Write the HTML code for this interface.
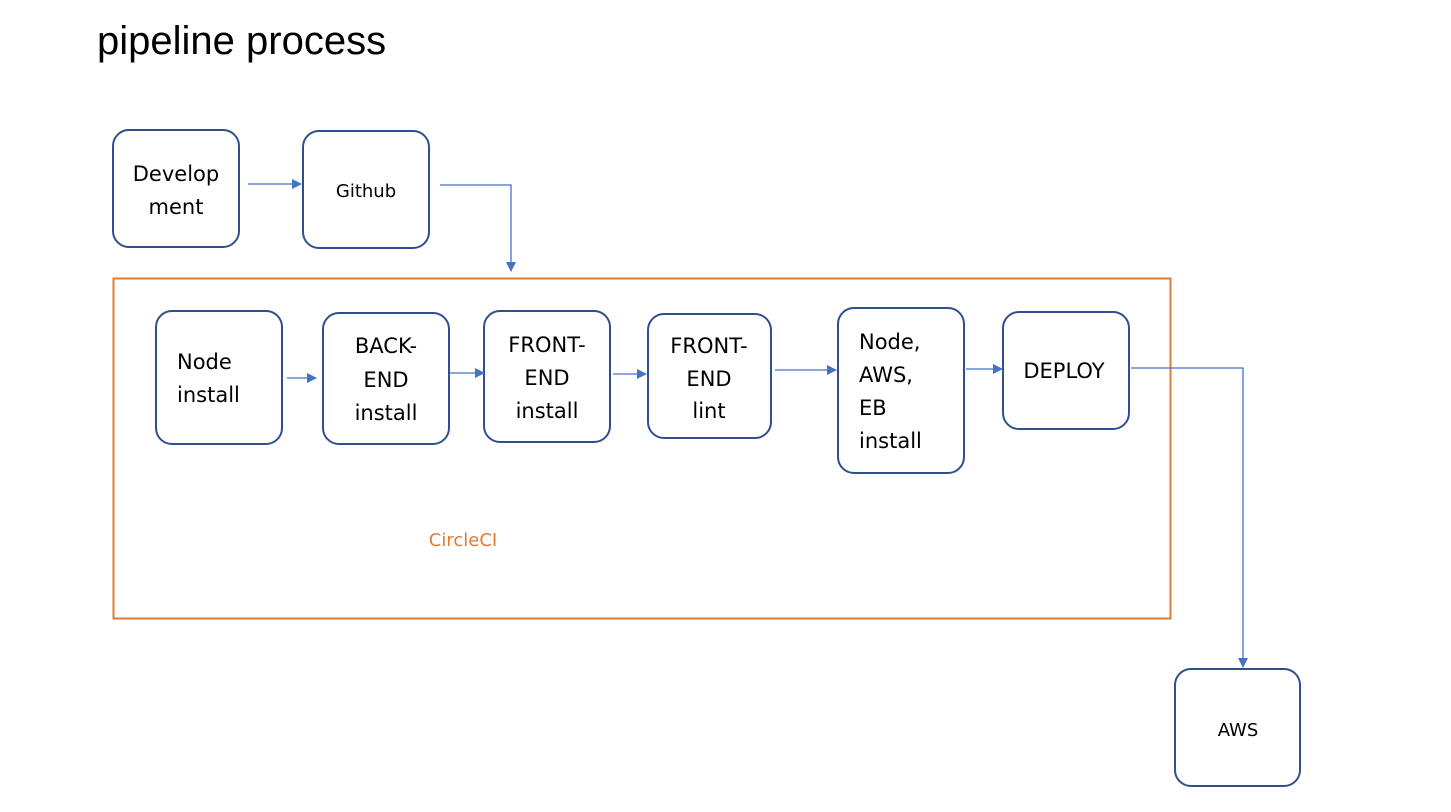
<!DOCTYPE html>
<html><head><meta charset="utf-8"><style>
body{margin:0;background:#fff;}
svg{display:block;}
text{font-family:"DejaVu Sans","Liberation Sans",sans-serif;fill:#000;}
</style></head><body>
<svg width="1451" height="812" viewBox="0 0 1451 812" xmlns="http://www.w3.org/2000/svg">
<defs>
<marker id="a" markerWidth="10" markerHeight="10" refX="9" refY="5" orient="auto" markerUnits="userSpaceOnUse">
<path d="M0,0 L10,5 L0,10 z" fill="#4472c4"/>
</marker>
</defs>
<text x="97" y="54" style="font-family:'Liberation Sans',sans-serif;font-size:40px">pipeline process</text>
<rect x="113.5" y="278.5" width="1057" height="340" fill="none" stroke="#e07b32" stroke-width="2"/>
<text x="463" y="546" text-anchor="middle" font-size="18" style="fill:#e07b32">CircleCI</text>
<g fill="none" stroke="#2f4f8f" stroke-width="2">
<rect x="113" y="130" width="126" height="117" rx="16"/>
<rect x="303" y="131" width="126" height="117" rx="16"/>
<rect x="156" y="311" width="126" height="133" rx="16"/>
<rect x="323" y="313" width="126" height="131" rx="16"/>
<rect x="484" y="311" width="126" height="131" rx="16"/>
<rect x="648" y="314" width="123" height="124" rx="16"/>
<rect x="838" y="308" width="126" height="165" rx="16"/>
<rect x="1003" y="312" width="126" height="117" rx="16"/>
<rect x="1175" y="669" width="125" height="117" rx="16"/>
</g>
<g fill="none" stroke="#4472c4" stroke-width="1.3" marker-end="url(#a)">
<path d="M248,184 H301"/>
<path d="M440,185 H511 V271"/>
<path d="M287,378 H316"/>
<path d="M450,373 H484"/>
<path d="M613,374 H646"/>
<path d="M775,370 H836"/>
<path d="M966,369 H1002"/>
<path d="M1131,368 H1243 V667"/>
</g>
<g font-size="21" text-anchor="middle">
<text x="176" y="181">Develop</text><text x="176" y="214">ment</text>
<text x="366" y="197" font-size="18">Github</text>
<text x="177" y="369" text-anchor="start">Node</text><text x="177" y="402" text-anchor="start">install</text>
<text x="386" y="353">BACK-</text><text x="386" y="387">END</text><text x="386" y="420">install</text>
<text x="547" y="352">FRONT-</text><text x="547" y="385">END</text><text x="547" y="418">install</text>
<text x="709" y="353">FRONT-</text><text x="709" y="386">END</text><text x="709" y="418">lint</text>
<text x="859" y="349" text-anchor="start">Node,</text><text x="859" y="382" text-anchor="start">AWS,</text><text x="859" y="415" text-anchor="start">EB</text><text x="859" y="448" text-anchor="start">install</text>
<text x="1064" y="378">DEPLOY</text>
<text x="1238" y="736" font-size="18">AWS</text>
</g>
</svg>
</body></html>
